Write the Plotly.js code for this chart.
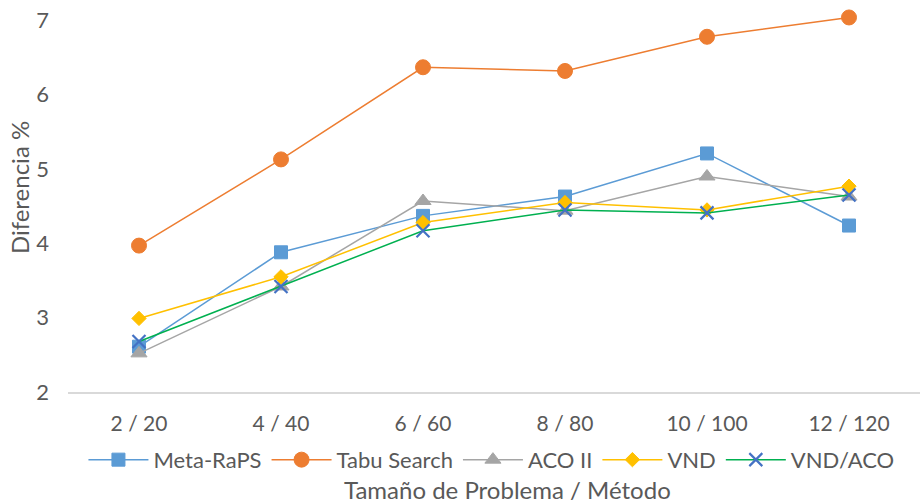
<!DOCTYPE html>
<html>
<head>
<meta charset="utf-8">
<script src="https://cdn.plot.ly/plotly-3.0.1.min.js"></script>
<style>html,body{margin:0;padding:0;background:#fff;}#chart{width:920px;height:504px;}</style>
</head>
<body>
<div id="chart"></div>
<script>
const categories = ["2 / 20", "4 / 40", "6 / 60", "8 / 80", "10 / 100", "12 / 120"];
const metaRaps   = [2.61, 3.88, 4.37, 4.63, 5.21, 4.24];
const tabuSearch = [3.97, 5.13, 6.37, 6.32, 6.78, 7.04];
const acoII      = [2.52, 3.42, 4.57, 4.44, 4.90, 4.63];
const vnd        = [2.99, 3.55, 4.28, 4.55, 4.45, 4.77];
const vndAco     = [2.68, 3.42, 4.17, 4.45, 4.41, 4.65];
const yTicks     = [2, 3, 4, 5, 6, 7];

const FONT = "Lato, 'Open Sans', 'Liberation Sans', sans-serif";
const GREY = "#595959";

function series(name, y, lineColor, symbol, size, markerColor, extra) {
  const m = {symbol: symbol, size: size, color: markerColor,
             line: {color: markerColor, width: 1}};
  if (extra) Object.assign(m, extra);
  return {type: "scatter", mode: "lines+markers", name: name, x: categories, y: y,
          cliponaxis: false,
          line: {color: lineColor, width: 1.5}, marker: m};
}

const data = [
  series("Meta-RaPS", metaRaps, "#5B9BD5", "square", 13, "#5B9BD5"),
  series("Tabu Search", tabuSearch, "#ED7D31", "circle", 15, "#ED7D31"),
  series("ACO II", acoII, "#A5A5A5", "triangle-up", 14, "#A5A5A5"),
  series("VND", vnd, "#FFC000", "diamond", 11, "#FFC000"),
  series("VND/ACO", vndAco, "#00B050", "x-thin-open", 13, "#4472C4", {line: {color: "#4472C4", width: 2.2}})
];

const layout = {
  width: 920, height: 504,
  margin: {l: 68, r: 0, t: 13, b: 112},
  paper_bgcolor: "#fff", plot_bgcolor: "#fff",
  font: {family: FONT, color: GREY, size: 21},
  showlegend: true,
  legend: {orientation: "h", x: 0.497, xanchor: "center", y: -0.179, yanchor: "middle",
           font: {family: FONT, size: 22, color: GREY}, itemwidth: 60, traceorder: "normal"},
  xaxis: {type: "category", range: [-0.5, 5.5], showgrid: false, zeroline: false,
          showline: true, linecolor: "#D9D9D9", linewidth: 2, ticks: "",
          ticklabelstandoff: 12, tickfont: {family: FONT, size: 21, color: GREY},
          automargin: false},
  yaxis: {range: [2, 7.1], tickvals: yTicks, showgrid: false, zeroline: false,
          showline: false, ticks: "", ticklabelstandoff: 18,
          tickfont: {family: FONT, size: 22, color: GREY}, automargin: false},
  annotations: [
    {text: "Diferencia %", textangle: -90, xref: "paper", yref: "paper",
     x: -0.0575, y: 0.538, xanchor: "center", yanchor: "middle", showarrow: false,
     font: {family: FONT, size: 24, color: GREY}},
    {text: "Tamaño de Problema / Método", xref: "paper", yref: "paper",
     x: 0.516, y: -0.258, xanchor: "center", yanchor: "middle", showarrow: false,
     font: {family: FONT, size: 24, color: GREY}}
  ]
};

Plotly.newPlot("chart", data, layout, {displayModeBar: false, staticPlot: true});
</script>
</body>
</html>
